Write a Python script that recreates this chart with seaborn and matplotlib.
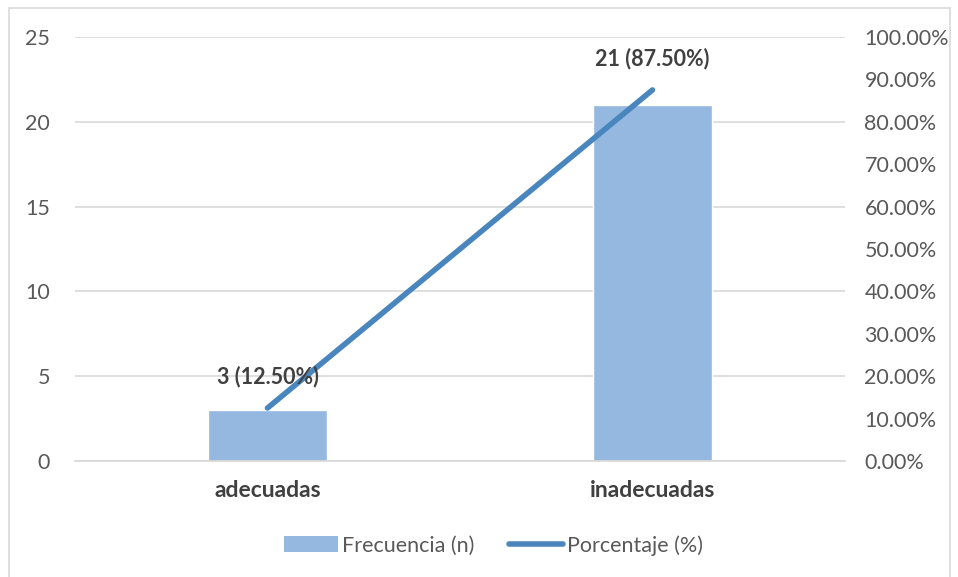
import numpy as np
import pandas as pd
import matplotlib
matplotlib.use("Agg")
import matplotlib.pyplot as plt
import seaborn as sns
from matplotlib.patches import Patch, Rectangle
from matplotlib.lines import Line2D
from matplotlib.ticker import FuncFormatter, MultipleLocator

# Data
categories = ["adecuadas", "inadecuadas"]
frecuencia = [3, 21]
porcentaje = [12.50, 87.50]

bar_color = "#95B8E0"
line_color = "#4A86BE"
text_color = "#595959"
label_color = "#404040"
grid_color = "#D9D9D9"

sns.set_theme(style="white")
plt.rcParams["font.family"] = ["Lato", "DejaVu Sans"]

df = pd.DataFrame({"categoria": categories, "n": frecuencia, "pct": porcentaje})
df["pos"] = range(len(df))

fig = plt.figure(figsize=(9.58, 5.77), dpi=100)
ax = fig.add_axes([0.0783, 0.201, 0.8037, 0.735])

# Bars (left axis)
sns.barplot(data=df, x="pos", y="n", color=bar_color, width=0.31,
            saturation=1, ax=ax, native_scale=True, zorder=2)
ax.set_xlim(-0.5, 1.5)
ax.set_ylim(0, 25)
ax.yaxis.set_major_locator(MultipleLocator(5))
ax.set_xticks(df["pos"])
ax.set_xticklabels(categories, fontweight="bold", color=label_color, fontsize=16.5)
ax.set_xlabel("")
ax.set_ylabel("")
ax.grid(axis="y", color=grid_color, linewidth=1.2, zorder=0)
ax.set_axisbelow(True)
ax.tick_params(axis="y", length=0, pad=18, labelsize=15.5, labelcolor=text_color)
ax.tick_params(axis="x", length=0, pad=14)
for s in ax.spines.values():
    s.set_visible(False)
ax.spines["bottom"].set_visible(True)
ax.spines["bottom"].set_color(grid_color)

# Line (right axis)
ax2 = ax.twinx()
sns.lineplot(data=df, x="pos", y="pct", color=line_color, linewidth=4,
             ax=ax2, solid_capstyle="round", zorder=3)
ax2.set_ylim(0, 100)
ax2.set_xlim(-0.5, 1.5)
ax2.yaxis.set_major_locator(MultipleLocator(10))
ax2.yaxis.set_major_formatter(FuncFormatter(lambda v, p: f"{v:.2f}%"))
ax2.tick_params(axis="y", length=0, pad=14, labelsize=15.5, labelcolor=text_color)
ax2.set_ylabel("")
ax2.set_xlabel("")
for s in ax2.spines.values():
    s.set_visible(False)

# Data labels above line points
for p, n, pct in zip(df["pos"], frecuencia, porcentaje):
    ax2.annotate(f"{n} ({pct:.2f}%)", (p, pct), xytext=(0, 15),
                 textcoords="offset points", ha="center", va="bottom",
                 fontsize=15.5, fontweight="bold", color=label_color)

# Legend
handles = [Patch(facecolor=bar_color, edgecolor="none"),
           Line2D([0], [0], color=line_color, linewidth=4, solid_capstyle="round")]
fig.legend(handles, ["Frecuencia (n)", "Porcentaje (%)"], loc="center",
           bbox_to_anchor=(0.515, 0.055), ncol=2, frameon=False, fontsize=15.5,
           handlelength=2.5, handletextpad=0.2, columnspacing=1.6,
           labelcolor=text_color)

# Outer chart border
fig.patches.append(Rectangle((9 / 958, -0.01), 941 / 958, 1 - 8 / 577 + 0.01,
                             transform=fig.transFigure, fill=False,
                             edgecolor=grid_color, linewidth=1.2))

fig.savefig("out.png", dpi=100)
